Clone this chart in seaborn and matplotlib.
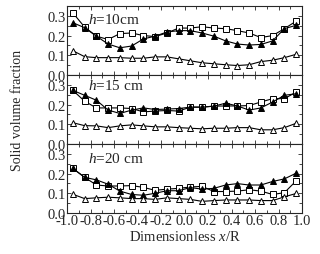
import numpy as np
import pandas as pd
import matplotlib
matplotlib.use("Agg")
import matplotlib.pyplot as plt
import seaborn as sns
from matplotlib.ticker import MultipleLocator

sns.set_style("ticks")
plt.rcParams['font.family'] = ['Liberation Serif', 'DejaVu Serif']
plt.rcParams['mathtext.fontset'] = 'custom'
plt.rcParams['mathtext.rm'] = 'Liberation Serif'
plt.rcParams['mathtext.it'] = 'Liberation Serif:italic'

x_pos = [-0.95, -0.85, -0.75, -0.65, -0.55, -0.45, -0.35, -0.25, -0.15, -0.05,
         0.05, 0.15, 0.25, 0.35, 0.45, 0.55, 0.65, 0.75, 0.85, 0.95]

h10_square = [0.315, 0.243, 0.197, 0.180, 0.210, 0.213, 0.200, 0.195, 0.213, 0.238,
              0.238, 0.245, 0.238, 0.235, 0.225, 0.213, 0.190, 0.200, 0.235, 0.273]
h10_filled = [0.265, 0.240, 0.197, 0.157, 0.138, 0.147, 0.183, 0.197, 0.218, 0.225,
              0.225, 0.213, 0.197, 0.173, 0.157, 0.152, 0.155, 0.173, 0.235, 0.252]
h10_open = [0.123, 0.093, 0.088, 0.088, 0.088, 0.085, 0.085, 0.092, 0.092, 0.082,
            0.072, 0.062, 0.057, 0.052, 0.048, 0.052, 0.068, 0.075, 0.088, 0.105]

h15_square = [0.272, 0.217, 0.183, 0.183, 0.183, 0.180, 0.163, 0.167, 0.170, 0.167,
              0.187, 0.187, 0.192, 0.193, 0.193, 0.195, 0.213, 0.230, 0.230, 0.263]
h15_filled = [0.272, 0.247, 0.222, 0.172, 0.155, 0.172, 0.183, 0.175, 0.177, 0.180,
              0.187, 0.187, 0.192, 0.207, 0.193, 0.172, 0.183, 0.213, 0.247, 0.255]
h15_open = [0.108, 0.093, 0.092, 0.083, 0.092, 0.097, 0.092, 0.087, 0.087, 0.083,
            0.080, 0.077, 0.080, 0.080, 0.083, 0.083, 0.072, 0.072, 0.083, 0.105]

h20_square = [0.226, 0.181, 0.142, 0.137, 0.137, 0.139, 0.130, 0.115, 0.121, 0.125,
              0.132, 0.135, 0.109, 0.109, 0.111, 0.118, 0.111, 0.094, 0.103, 0.163]
h20_filled = [0.226, 0.181, 0.168, 0.146, 0.111, 0.094, 0.090, 0.100, 0.113, 0.113,
              0.129, 0.121, 0.125, 0.142, 0.149, 0.142, 0.142, 0.160, 0.173, 0.202]
h20_open = [0.095, 0.073, 0.077, 0.080, 0.077, 0.073, 0.073, 0.069, 0.077, 0.073,
            0.069, 0.059, 0.063, 0.066, 0.066, 0.066, 0.063, 0.063, 0.082, 0.099]

panel_labels = ['$h$=10cm', '$h$=15 cm', '$h$=20 cm']
label_y = [0.81, 0.85, 0.79]
panels = [(h10_square, h10_filled, h10_open),
          (h15_square, h15_filled, h15_open),
          (h20_square, h20_filled, h20_open)]

fig = plt.figure(figsize=(3.2, 2.55), dpi=100)
gs = fig.add_gridspec(3, 1, left=67/320, right=302/320, top=1-7/255, bottom=1-214/255, hspace=0)

styles = [dict(marker='s', mfc='white', mec='black'),
          dict(marker='^', mfc='black', mec='black'),
          dict(marker='^', mfc='white', mec='black')]

for i, (series, lab, ly) in enumerate(zip(panels, panel_labels, label_y)):
    ax = fig.add_subplot(gs[i])
    for vals, st in zip(series, styles):
        df = pd.DataFrame({'x': x_pos, 'y': vals})
        sns.lineplot(data=df, x='x', y='y', ax=ax, color='black', linewidth=0.8,
                     marker=st['marker'], markersize=5, markerfacecolor=st['mfc'],
                     markeredgecolor=st['mec'], markeredgewidth=0.7)
    ax.set_xlim(-1.0, 1.0)
    ax.set_ylim(0, 0.35)
    ax.set_yticks([0.0, 0.1, 0.2, 0.3])
    ax.set_yticklabels(['0.0', '0.1', '0.2', '0.3'])
    ax.yaxis.set_minor_locator(MultipleLocator(0.05))
    ax.set_xticks(np.round(np.arange(-1.0, 1.01, 0.2), 1))
    ax.xaxis.set_minor_locator(MultipleLocator(0.1))
    ax.tick_params(which='both', direction='in', top=True, right=True, labelsize=10.5,
                   length=3, width=0.6, pad=1)
    ax.tick_params(which='minor', length=2)
    for s in ax.spines.values():
        s.set_linewidth(0.8)
        s.set_visible(True)
    ax.set_ylabel('')
    ax.text(0.09, ly, lab, transform=ax.transAxes, fontsize=11, va='center', ha='left')
    if i < 2:
        ax.set_xlabel('')
        ax.tick_params(labelbottom=False)
    else:
        ax.set_xticklabels(['-1.0', '-0.8', '-0.6', '-0.4', '-0.2', '0.0', '0.2', '0.4', '0.6', '0.8', '1.0'])
        ax.set_xlabel('Dimensionless $x$/R', fontsize=10.5, labelpad=1)

fig.text(0.055, (1-7/255 + 1-214/255)/2, 'Solid volume fraction', rotation=90,
         va='center', ha='center', fontsize=10)

fig.savefig('out.png', dpi=100)
